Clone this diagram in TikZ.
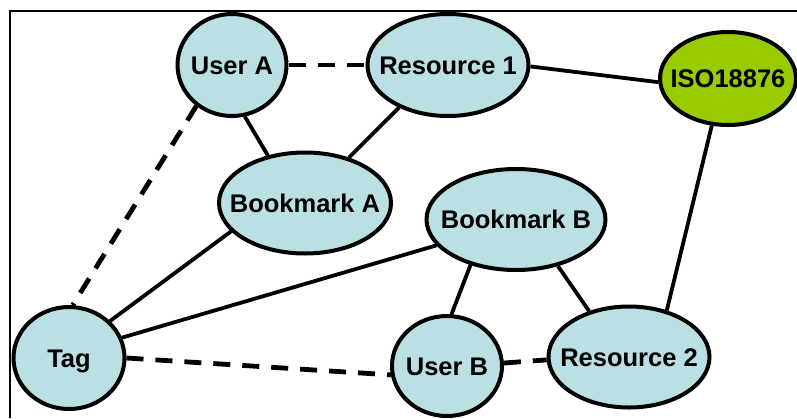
\documentclass[tikz,border=0pt]{standalone}
\usepackage{fontspec}
\setmainfont{Liberation Sans}
\usetikzlibrary{shapes.geometric}
\definecolor{nodeblue}{HTML}{BAE0E3}
\definecolor{isogreen}{HTML}{99CC00}
% entity label of zero width, so that the ellipse size comes from the minimum sizes only
\newcommand{\entlabel}[1]{\makebox[0pt]{#1}}
\tikzset{
  ent/.style={ellipse, draw=black, line width=4pt, fill=nodeblue, inner sep=0pt,
    text height=18.3pt, text depth=0pt,
    font=\fontsize{25.5}{28}\selectfont\bfseries},
  link/.style={line width=3.8pt},
  weak/.style={line width=4.8pt, dash pattern=on 17pt off 12pt}
}
\begin{document}
\begin{tikzpicture}[x=1pt, y=-1pt]
\useasboundingbox (0,0) rectangle (797,418);
% frame lines
\draw[line width=1.3pt] (10,418) -- (10,11) -- (797,11);

% entities
\node[ent, minimum width=109pt, minimum height=102pt] (userA) at (232,65) {\entlabel{User A}};
\node[ent, minimum width=161pt, minimum height=102pt] (res1) at (448,65) {\entlabel{Resource 1}};
\node[ent, fill=isogreen, minimum width=136pt, minimum height=93pt] (iso) at (728,78.5) {\entlabel{ISO18876}};
\node[ent, minimum width=172pt, minimum height=101pt] (bkA) at (305,203) {\entlabel{Bookmark A}};
\node[ent, minimum width=179pt, minimum height=101pt] (bkB) at (516,219.5) {\entlabel{Bookmark B}};
\node[ent, minimum width=111pt, minimum height=102pt] (tag) at (69,358) {\entlabel{Tag}};
\node[ent, minimum width=110pt, minimum height=100pt] (userB) at (447,366) {\entlabel{User B}};
\node[ent, minimum width=161pt, minimum height=101pt] (res2) at (629,357) {\entlabel{Resource 2}};

% solid relations
\draw[link] (userA.284) -- (bkA.128);
\draw[link] (res1.221) -- (bkA.46);
\draw[link] (res1.-1) -- (iso.183);
\draw[link] (iso.251) -- (res2.51);
\draw[link] (tag.42) -- (bkA.201);
\draw[link] (tag.21) -- (bkB.198);
\draw[link] (bkB.225) -- (userB.85);
\draw[link] (bkB.312) -- (res2.131);

% dashed relations
\draw[weak] (userA.0) -- (res1.180);
\draw[weak] (userA.229) -- (tag.86);
\draw[weak] (tag.0) -- (userB.189);
\draw[weak] (userB.3) -- (res2.182);
\end{tikzpicture}
\end{document}
